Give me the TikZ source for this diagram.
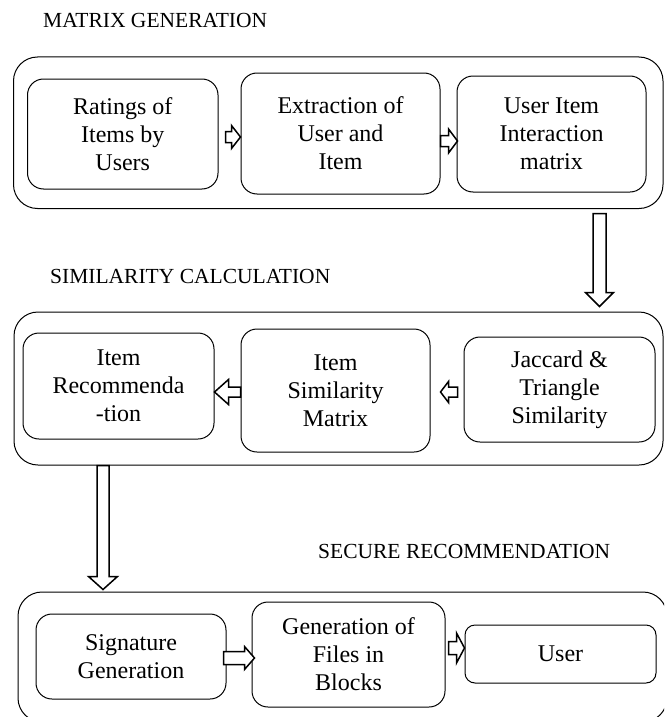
\documentclass[tikz,border=0pt]{standalone}
\usepackage{fontspec}
\IfFontExistsTF{LiberationSerif-Regular.ttf}
  {\setmainfont{LiberationSerif}[Extension=.ttf, UprightFont=*-Regular, BoldFont=*-Bold]}
  {\setmainfont{Liberation Serif}}
\usetikzlibrary{positioning,calc}

\newcommand{\boxfont}{\rmfamily\fontsize{24}{28}\selectfont}
\newcommand{\headfont}{\rmfamily\fontsize{21.5}{24}\selectfont}

\begin{document}
\begin{tikzpicture}[x=1pt, y=-1pt,
    stage/.style = {draw, rounded corners=24pt, line width=1pt, inner sep=0pt},
    box/.style = {draw, rounded corners=16pt, line width=1pt, align=center, font=\boxfont, inner sep=0pt},
    head/.style = {anchor=base west, inner sep=0pt, font=\headfont},
    harrow/.style n args = {3}{draw, fill=white, line width=1.5pt, line join=miter, to path={
      let \p1=(\tikztostart), \p2=(\tikztotarget), \n1={sign(\x2-\x1)} in
      (\x1,{\y1+#3}) -- ({\x2-\n1*#1},{\y1+#3}) -- ({\x2-\n1*#1},{\y1+#2}) -- (\x2,\y1)
      -- ({\x2-\n1*#1},{\y1-#2}) -- ({\x2-\n1*#1},{\y1-#3}) -- (\x1,{\y1-#3}) -- cycle}},
    varrow/.style n args = {3}{draw, fill=white, line width=1.5pt, line join=miter, to path={
      let \p1=(\tikztostart), \p2=(\tikztotarget), \n1={sign(\y2-\y1)} in
      ({\x1-#3},\y1) -- ({\x1-#3},{\y2-\n1*#1}) -- ({\x1-#2},{\y2-\n1*#1}) -- (\x1,\y2)
      -- ({\x1+#2},{\y2-\n1*#1}) -- ({\x1+#3},{\y2-\n1*#1}) -- ({\x1+#3},\y1) -- cycle}}]
  \useasboundingbox (0,0) rectangle (664,717);
  \clip (0,0) rectangle (664,717);

  % matrix generation
  \node[head] (t1) at (43,28) {MATRIX GENERATION};
  \node[stage, minimum width=649.5pt, minimum height=151.5pt] (mg) at (338.25,132.75) {};
  \node[box, minimum width=190.5pt, minimum height=110pt] (rat) at (122.75,134) {Ratings of\\Items by\\Users};
  \node[box, minimum width=199pt, minimum height=121pt] (ext) at (340.5,133.5) {Extraction of\\User and\\Item};
  \node[box, minimum width=189pt, minimum height=116pt] (uim) at (551.5,134) {User Item\\Interaction\\matrix};
  \draw[harrow={9pt}{11.5pt}{5.5pt}] ([xshift=7pt,yshift=-3pt]rat.east) to (ext.west);
  \draw[harrow={9pt}{12pt}{5.5pt}] ([yshift=-7.5pt]ext.east) to ([xshift=1pt]uim.west);

  % similarity calculation
  \node[head] (t2) at (50,283) {SIMILARITY CALCULATION};
  \node[stage, minimum width=649pt, minimum height=153pt] (sc) at (338.5,388.5) {};
  \node[box, minimum width=191pt, minimum height=106pt] (irec) at (118.5,386) {Item\\Recommenda\\-tion};
  \node[box, minimum width=189pt, minimum height=123pt] (isim) at (335.5,390.5) {Item\\Similarity\\Matrix};
  \node[box, minimum width=191pt, minimum height=105pt] (jac) at (559.5,389.5) {Jaccard \&\\Triangle\\Similarity};
  \draw[harrow={14pt}{12.5pt}{5pt}] ([yshift=-1.5pt]isim.west) to (irec.east);
  \draw[harrow={8pt}{10.5pt}{5pt}] ([xshift=-6pt,yshift=-2.5pt]jac.west) to ([xshift=10pt]isim.east);
  \draw[varrow={14pt}{14pt}{6.5pt}] ([xshift=261.25pt,yshift=-4.5pt]mg.south) to ([xshift=261pt,yshift=5pt]sc.north);

  % secure recommendation
  \node[head] (t3) at (318,558) {SECURE RECOMMENDATION};
  \node[stage, minimum width=649pt, minimum height=130pt] (sr) at (342.5,657) {};
  \node[box, minimum width=190pt, minimum height=85pt] (sig) at (131,656.5) {Signature\\Generation};
  \node[box, minimum width=193pt, minimum height=105pt] (gen) at (348.5,654.5) {Generation of\\Files in\\Blocks};
  \node[box, rounded corners=10pt, minimum width=191pt, minimum height=58pt] (usr) at (560.5,654) {User};
  \draw[harrow={10pt}{11.5pt}{6.5pt}] ([xshift=-3pt,yshift=-1.5pt]sig.east) to ([xshift=3pt]gen.west);
  \draw[harrow={8pt}{15pt}{6.5pt}] ([xshift=3pt,yshift=6.5pt]gen.east) to (usr.west);
  \draw[varrow={13pt}{14.5pt}{6pt}] ([xshift=-235.5pt]sc.south) to ([xshift=-239.5pt,yshift=2pt]sr.north);
\end{tikzpicture}
\end{document}
